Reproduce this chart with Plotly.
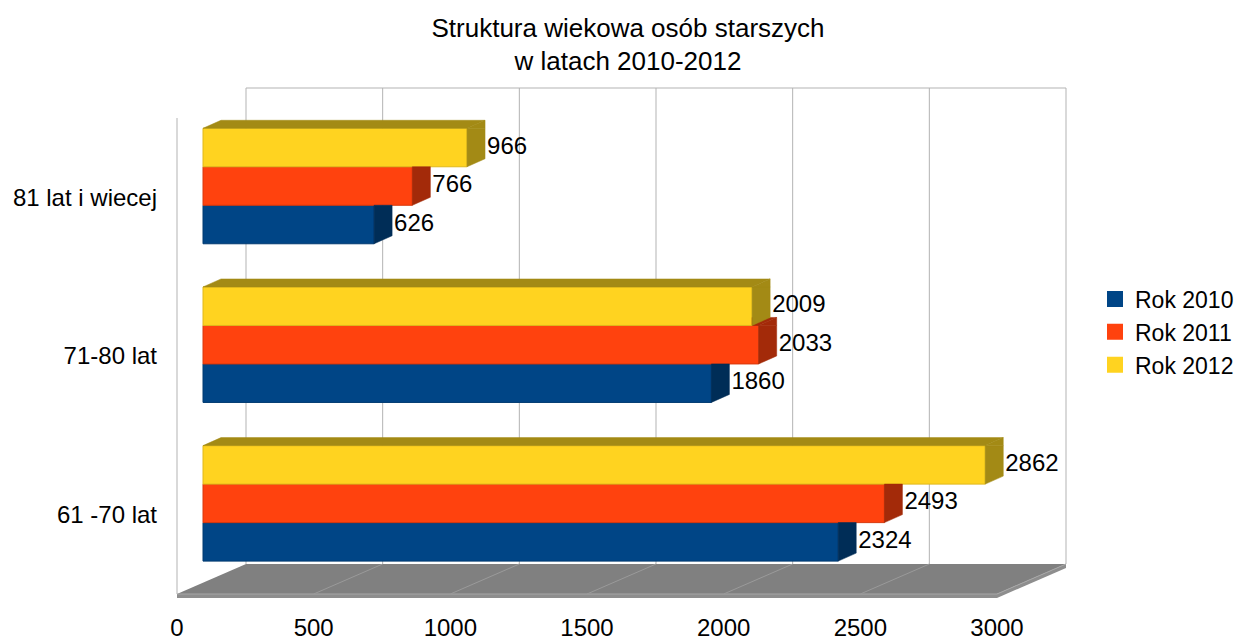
import plotly.graph_objects as go

# ---------------- data ----------------
categories = ["61 -70 lat", "71-80 lat", "81 lat i wiecej"]
series_names = ["Rok 2010", "Rok 2011", "Rok 2012"]
rok_2010 = [2324, 1860, 626]
rok_2011 = [2493, 2033, 766]
rok_2012 = [2862, 2009, 966]
x_ticks = [0, 500, 1000, 1500, 2000, 2500, 3000]
title_text = "Struktura wiekowa osób starszych<br>w latach 2010-2012"

series = [rok_2010, rok_2011, rok_2012]

# ---------------- style ----------------
colors_front = ["#004586", "#ff420e", "#ffd320"]
colors_dark = ["#002d57", "#a32a09", "#a38a15"]
colors_edge = ["#003a70", "#d8380c", "#e0b81c"]
FONT = "Liberation Sans, Arial, sans-serif"

W, H = 1241, 639
M_B = 41
X0_PX = 177           # pixel of value 0 on the front plane
X_MAX = 3000
KX = 820 / X_MAX      # px per unit
FRONT_TOP_PX = 118
FRONT_BOT_PX = 594
NCAT = len(categories)
KY = (FRONT_BOT_PX - FRONT_TOP_PX) / NCAT
PLOT_H = H - M_B
x_range = [-X0_PX / KX, (W - X0_PX) / KX]
y_range = [-0.5 - (PLOT_H - FRONT_BOT_PX) / KY, -0.5 + FRONT_BOT_PX / KY]


def ux(px):
    return px / KX


def uy(px):
    return px / KY


WALL_D = (ux(69), uy(30))
BAR_FRONT = (ux(26), uy(11.3))
BAR_D = (ux(18), uy(8))
BAR_W = uy(38.5)
FLOOR_T = uy(4)
LABEL_GAP = ux(2)
Y_LO, Y_HI = -0.5, NCAT - 0.5


def clip(poly, axis, c, keep_ge):
    out = []
    n = len(poly)
    for i in range(n):
        p, q = poly[i], poly[(i + 1) % n]
        pin = (p[axis] >= c) if keep_ge else (p[axis] <= c)
        qin = (q[axis] >= c) if keep_ge else (q[axis] <= c)
        if pin:
            out.append(p)
        if pin != qin:
            t = (c - p[axis]) / (q[axis] - p[axis])
            out.append((p[0] + t * (q[0] - p[0]), p[1] + t * (q[1] - p[1])))
    return out


def path(poly):
    return "M " + " L ".join(f"{x},{y}" for x, y in poly) + " Z"


shapes = []
grid_col = "#b3b3b3"
# floor top face
floor_top = [(0, Y_LO), (X_MAX, Y_LO), (X_MAX + WALL_D[0], Y_LO + WALL_D[1]), (WALL_D[0], Y_LO + WALL_D[1])]
shapes.append(dict(type="path", path=path(floor_top), xref="x", yref="y", fillcolor="#808080",
                   line=dict(width=0), layer="below"))
# floor front strip
floor_front = [(0, Y_LO), (X_MAX, Y_LO), (X_MAX, Y_LO - FLOOR_T), (0, Y_LO - FLOOR_T)]
shapes.append(dict(type="path", path=path(floor_front), xref="x", yref="y", fillcolor="#8e8e8e",
                   line=dict(width=0), layer="below"))
floor_side = [(X_MAX, Y_LO), (X_MAX + WALL_D[0], Y_LO + WALL_D[1]),
              (X_MAX + WALL_D[0], Y_LO + WALL_D[1] - FLOOR_T), (X_MAX, Y_LO - FLOOR_T)]
shapes.append(dict(type="path", path=path(floor_side), xref="x", yref="y", fillcolor="#8e8e8e",
                   line=dict(width=0), layer="below"))
# floor edge highlights
shapes.append(dict(type="line", xref="x", yref="y", x0=0, y0=Y_LO, x1=X_MAX, y1=Y_LO,
                   line=dict(color="#a6a6a6", width=1), layer="below"))
shapes.append(dict(type="line", xref="x", yref="y", x0=X_MAX, y0=Y_LO, x1=X_MAX + WALL_D[0],
                   y1=Y_LO + WALL_D[1], line=dict(color="#a6a6a6", width=1), layer="below"))
# floor grid lines
for v in x_ticks[1:-1]:
    shapes.append(dict(type="line", xref="x", yref="y", x0=v, y0=Y_LO, x1=v + WALL_D[0],
                       y1=Y_LO + WALL_D[1], line=dict(color="#9a9a9a", width=1), layer="below"))
# back wall grid lines
for v in x_ticks:
    shapes.append(dict(type="line", xref="x", yref="y", x0=v + WALL_D[0], y0=Y_LO + WALL_D[1],
                       x1=v + WALL_D[0], y1=Y_HI + WALL_D[1], line=dict(color=grid_col, width=1),
                       layer="below"))
# back wall top edge
shapes.append(dict(type="line", xref="x", yref="y", x0=WALL_D[0], y0=Y_HI + WALL_D[1],
                   x1=X_MAX + WALL_D[0], y1=Y_HI + WALL_D[1], line=dict(color=grid_col, width=1),
                   layer="below"))
# left wall front edge
shapes.append(dict(type="line", xref="x", yref="y", x0=0, y0=Y_LO, x1=0, y1=Y_HI,
                   line=dict(color=grid_col, width=1), layer="below"))

fig = go.Figure()

cat_pos = list(range(NCAT))
nser = len(series)


def bar_center(i, k):
    return cat_pos[i] + BAR_FRONT[1] + (k - (nser - 1) / 2) * BAR_W


# front faces as bars
for k, (name, vals) in enumerate(zip(series_names, series)):
    fig.add_trace(go.Bar(
        orientation="h", name=name, x=vals, y=[bar_center(i, k) for i in range(NCAT)],
        base=BAR_FRONT[0], width=BAR_W, legendgroup=name,
        marker=dict(color=colors_front[k], line=dict(color=colors_edge[k], width=1)),
        hoverinfo="skip", showlegend=False,
    ))

# 3D faces (sides, tops), painted bottom bar first
for i in range(NCAT):
    for k in range(nser):
        v = series[k][i]
        x_end = BAR_FRONT[0] + v
        yc = bar_center(i, k)
        bot, top = yc - BAR_W / 2, yc + BAR_W / 2
        side = [(x_end, bot), (x_end, top), (x_end + BAR_D[0], top + BAR_D[1]), (x_end + BAR_D[0], bot + BAR_D[1])]
        topf = [(BAR_FRONT[0], top), (x_end, top), (x_end + BAR_D[0], top + BAR_D[1]),
                (BAR_FRONT[0] + BAR_D[0], top + BAR_D[1])]
        polys = []
        lower = clip(side, 1, top, False)
        polys.append(lower)
        upper = clip(side, 1, top, True)
        if k < nser - 1:
            above_end = BAR_FRONT[0] + series[k + 1][i]
            upper = clip(upper, 0, above_end, True) if upper else []
            topf = clip(topf, 0, above_end, True)
        polys.append(upper)
        polys.append(topf)
        for poly in polys:
            if len(poly) < 3:
                continue
            xs = [p[0] for p in poly] + [poly[0][0]]
            ys = [p[1] for p in poly] + [poly[0][1]]
            fig.add_trace(go.Scatter(x=xs, y=ys, mode="lines", fill="toself",
                                     fillcolor=colors_dark[k], line=dict(color=colors_dark[k], width=0.5),
                                     hoverinfo="skip", showlegend=False, legendgroup=series_names[k]))

# value labels
for k, vals in enumerate(series):
    fig.add_trace(go.Scatter(
        x=[BAR_FRONT[0] + v + BAR_D[0] + LABEL_GAP for v in vals],
        y=[bar_center(i, k) for i in range(NCAT)],
        mode="text", text=[str(v) for v in vals], textposition="middle right",
        textfont=dict(family=FONT, size=24, color="#000000"),
        hoverinfo="skip", showlegend=False, legendgroup=series_names[k],
    ))

# legend entries (square keys)
for k, name in enumerate(series_names):
    fig.add_trace(go.Scatter(
        x=[None], y=[None], mode="markers", name=name, legendgroup=name,
        marker=dict(symbol="square", size=16, color=colors_front[k]),
        hoverinfo="skip", showlegend=True,
    ))

fig.update_layout(
    width=W, height=H, autosize=False,
    margin=dict(l=0, r=0, t=0, b=M_B, autoexpand=False),
    paper_bgcolor="white", plot_bgcolor="white",
    barmode="overlay",
    font=dict(family=FONT, size=24, color="#000000"),
    title=dict(text=title_text, x=628 / W, xanchor="center", y=1 - 36.5 / H, yanchor="middle",
               font=dict(family=FONT, size=26, color="#000000")),
    shapes=shapes,
    showlegend=True,
    legend=dict(x=1095 / W, xanchor="left", y=1 - 332 / PLOT_H, yanchor="middle",
                traceorder="normal", itemsizing="trace",
                font=dict(family=FONT, size=23, color="#000000"),
                bgcolor="rgba(0,0,0,0)"),
    xaxis=dict(range=x_range, domain=[0, 1], tickvals=x_ticks, ticktext=[str(t) for t in x_ticks],
               showgrid=False, zeroline=False, showline=False, ticks="", ticklabelstandoff=13,
               automargin=False, fixedrange=True),
    yaxis=dict(range=y_range, domain=[0, 1], tickvals=cat_pos, ticktext=categories,
               anchor="free", position=X0_PX / W, showgrid=False, zeroline=False, showline=False,
               ticks="", ticklabelstandoff=20, automargin=False, fixedrange=True),
)

fig.write_html("out.html", config={"displayModeBar": False},
               post_script="document.body.style.margin='0';document.body.style.padding='0';"
                           "document.body.style.overflow='hidden';")
